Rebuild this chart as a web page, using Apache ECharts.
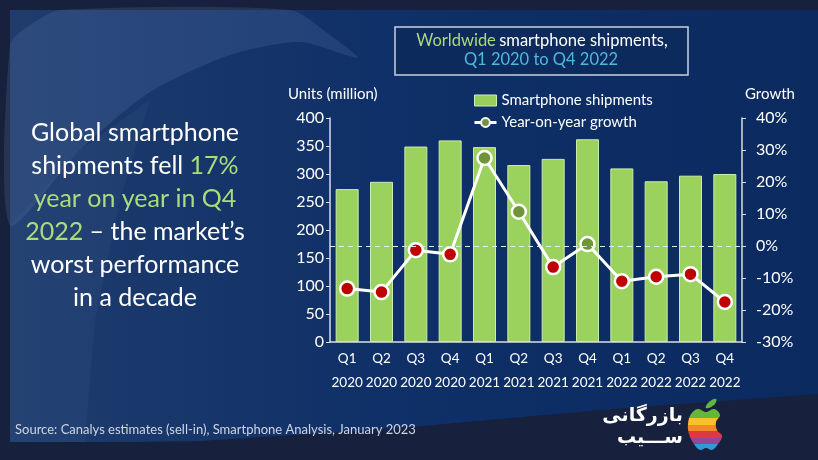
<!DOCTYPE html>
<html>
<head>
<meta charset="utf-8">
<script src="https://cdn.jsdelivr.net/npm/echarts@6/dist/echarts.min.js"></script>
<style>
html,body{margin:0;padding:0;background:#17213d;}
#chart{width:818px;height:460px;}
</style>
</head>
<body>
<div id="chart"></div>
<script>
// ---- Data ----
const quarters = ['Q1','Q2','Q3','Q4','Q1','Q2','Q3','Q4','Q1','Q2','Q3','Q4'];
const years = ['2020','2020','2020','2020','2021','2021','2021','2021','2022','2022','2022','2022'];
const shipments = [273, 286, 349, 360, 348, 316, 327, 362, 310, 287, 297, 300];
const growth = [-13.3, -14.4, -1.3, -2.6, 27.5, 10.7, -6.6, 0.6, -11.0, -9.6, -8.8, -17.5];
const leftTicks = [0, 400, 50];
const rightTicks = [-30, 40, 10];
const categories = quarters.map((q, i) => q + '\n' + years[i]);

const FONT = 'Lato, "DejaVu Sans", sans-serif';
const chart = echarts.init(document.getElementById('chart'));

function shift(pts, dx, dy) { return pts.map(p => [p[0] + dx, p[1] + dy]); }
const applePts = shift([[20,8],[12,5],[5,10],[2,20],[3,30],[8,40],[14,46],[20,44],[26,46],[32,40],[36,32],[31,26],[30,18],[34,11],[28,5]], 686, 404);
const leafPts = shift([[0,9],[3,3],[10,0],[8,6]], 706, 399);

const option = {
  backgroundColor: '#17213d',
  textStyle: { fontFamily: FONT },
  graphic: [
    { type: 'rect', z: -10, silent: true, shape: { x: 10, y: 10, width: 808, height: 432 },
      style: { fill: new echarts.graphic.LinearGradient(0, 0, 1, 0, [
        { offset: 0, color: '#1f3c6c' }, { offset: 0.45, color: '#0f3068' }, { offset: 1, color: '#0a2a60' }]) } },
    { type: 'polygon', z: -9, silent: true,
      shape: { points: [[60,10],[290,10],[330,35],[358,58],[300,42],[230,55],[150,92],[80,150],[10,225],[10,45],[30,25]], smooth: 0.25 },
      style: { fill: 'rgba(120,150,200,0.17)' } },
    { type: 'polygon', z: -9, silent: true,
      shape: { points: [[10,225],[80,150],[150,100],[120,200],[95,320],[85,442],[10,442]] },
      style: { fill: 'rgba(120,150,200,0.07)' } },
    { type: 'polygon', z: -8, silent: true,
      shape: { points: [[0,460],[0,444],[200,441],[400,428],[600,410],[818,394],[818,460]] },
      style: { fill: '#17213d' } },
    { type: 'rect', z: 5, shape: { x: 395, y: 27, width: 293, height: 48 },
      style: { fill: '#0c2a5c', stroke: '#c9d1e0', lineWidth: 1.5 } },
    { type: 'text', z: 6, x: 542, y: 41, style: {
        text: '{g|Worldwide} {w|smartphone shipments,}', align: 'center', verticalAlign: 'middle', rich: {
          g: { fill: '#a9dc7a', fontSize: 16.5, fontFamily: FONT },
          w: { fill: '#ffffff', fontSize: 16.5, fontFamily: FONT } } } },
    { type: 'text', z: 6, x: 541, y: 60, style: {
        text: 'Q1 2020 to Q4 2022', fill: '#4fb8de', fontSize: 16.5, fontFamily: FONT,
        align: 'center', verticalAlign: 'middle' } },
    ...[
      'Global smartphone',
      'shipments fell {g|17%}',
      '{g|year on year in Q4}',
      '{g|2022} \u2013 the market\u2019s',
      'worst performance',
      'in a decade'
    ].map((t, i) => ({
      type: 'text', z: 6, x: 135, y: 133 + i * 33,
      style: { text: t, fill: '#ffffff', fontSize: 25, fontFamily: FONT,
        align: 'center', verticalAlign: 'middle',
        rich: { g: { fill: '#a9dc7a', fontSize: 25, fontFamily: FONT } } }
    })),
    { type: 'text', z: 6, x: 288, y: 94, style: { text: 'Units (million)', fill: '#ffffff', fontSize: 15, fontFamily: FONT, verticalAlign: 'middle' } },
    { type: 'text', z: 6, x: 745, y: 94, style: { text: 'Growth', fill: '#ffffff', fontSize: 15, fontFamily: FONT, verticalAlign: 'middle' } },
    { type: 'text', z: 6, x: 15, y: 430, style: { text: 'Source: Canalys estimates (sell-in), Smartphone Analysis, January 2023', fill: '#cdd5e4', fontSize: 13, fontFamily: FONT, verticalAlign: 'middle' } },
    { type: 'text', z: 6, x: 683, y: 416, style: { text: 'بازرگانی', fill: '#ffffff', fontSize: 19, fontWeight: 'bold', fontFamily: '"DejaVu Sans", sans-serif', align: 'right', verticalAlign: 'middle' } },
    { type: 'text', z: 6, x: 683, y: 438, style: { text: 'ســـیب', fill: '#ffffff', fontSize: 19, fontWeight: 'bold', fontFamily: '"DejaVu Sans", sans-serif', align: 'right', verticalAlign: 'middle' } },
    { type: 'polygon', z: 6, shape: { points: applePts, smooth: 0.4 },
      style: { fill: new echarts.graphic.LinearGradient(0, 0, 0, 1, [
        { offset: 0, color: '#63b83b' }, { offset: 0.22, color: '#63b83b' },
        { offset: 0.22, color: '#f6c226' }, { offset: 0.38, color: '#f6c226' },
        { offset: 0.38, color: '#f28a2a' }, { offset: 0.54, color: '#f28a2a' },
        { offset: 0.54, color: '#e0383f' }, { offset: 0.70, color: '#e0383f' },
        { offset: 0.70, color: '#9a4497' }, { offset: 0.85, color: '#9a4497' },
        { offset: 0.85, color: '#2f9ad8' }, { offset: 1, color: '#2f9ad8' }]) } },
    { type: 'polygon', z: 6, shape: { points: leafPts, smooth: 0.5 }, style: { fill: '#63b83b' } }
  ],
  legend: {
    left: 473, top: 93, orient: 'vertical', itemGap: 7, padding: 0,
    itemWidth: 22, itemHeight: 11,
    textStyle: { color: '#ffffff', fontSize: 15, fontFamily: FONT },
    data: [
      { name: 'Smartphone shipments', icon: 'rect', itemStyle: { color: '#98cf5c', borderColor: '#d4ecb7', borderWidth: 1 } },
      { name: 'Year-on-year growth', itemStyle: { color: '#70943a', borderColor: '#ffffff', borderWidth: 2 }, lineStyle: { color: '#ffffff', width: 3 } }
    ]
  },
  grid: { left: 330, right: 76, top: 118, bottom: 118, containLabel: false },
  xAxis: {
    type: 'category', data: categories,
    axisLine: { lineStyle: { color: '#d9dde6', width: 1.5 } },
    axisTick: { show: false },
    axisLabel: { color: '#ffffff', fontSize: 13.5, lineHeight: 24, margin: 5, fontFamily: FONT, interval: 0 }
  },
  yAxis: [
    { type: 'value', min: leftTicks[0], max: leftTicks[1], interval: leftTicks[2],
      axisLine: { show: true, lineStyle: { color: '#d9dde6', width: 1.5 } },
      axisTick: { show: true, length: 4, lineStyle: { color: '#d9dde6' } },
      splitLine: { show: false },
      axisLabel: { color: '#ffffff', fontSize: 16, margin: 6, fontFamily: FONT } },
    { type: 'value', min: rightTicks[0], max: rightTicks[1], interval: rightTicks[2], position: 'right',
      axisLine: { show: true, lineStyle: { color: '#d9dde6', width: 1.5 } },
      axisTick: { show: true, length: 4, lineStyle: { color: '#d9dde6' } },
      splitLine: { show: false },
      axisLabel: { color: '#ffffff', fontSize: 16, margin: 14, fontFamily: FONT, formatter: '{value}%' } }
  ],
  series: [
    { name: 'Smartphone shipments', type: 'bar', data: shipments, barWidth: '67%',
      itemStyle: { color: '#9bd25e', borderColor: '#cfe9b0', borderWidth: 1 }, z: 2 },
    { name: 'Year-on-year growth', type: 'line', yAxisIndex: 1, data: growth,
      symbol: 'circle', symbolSize: 14, z: 4,
      lineStyle: { color: '#ffffff', width: 3 },
      itemStyle: { color: p => p.value < 0 ? '#c00000' : '#70943a', borderColor: '#ffffff', borderWidth: 2.5 },
      markLine: { silent: true, symbol: 'none', label: { show: false },
        lineStyle: { color: '#e6e9f0', type: [5, 4], width: 1 },
        data: [{ yAxis: 0 }] } }
  ]
};
chart.setOption(option);
</script>
</body>
</html>
